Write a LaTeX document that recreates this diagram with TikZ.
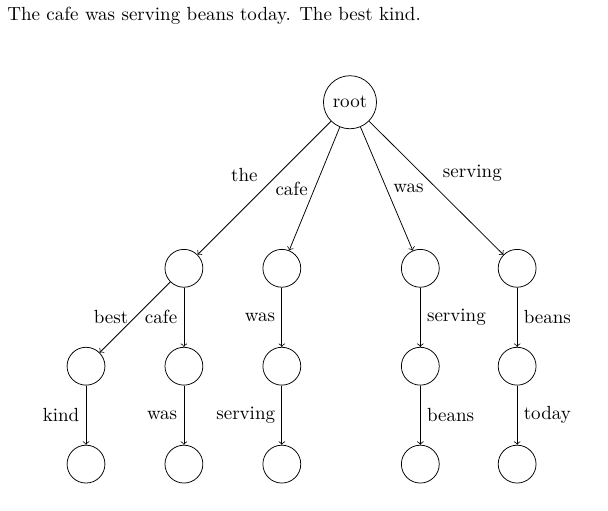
\documentclass[tikz,border=0pt]{standalone}
\usetikzlibrary{arrows}
\tikzset{vertex/.style={circle, draw, minimum size=0.7cm, inner sep=3.33pt}}

\begin{document}
\begin{tikzpicture}
              \useasboundingbox (0,0) rectangle (11.24,9.43);

              % Sentence on top
              \node[anchor=base west, inner sep=0pt] (sentence) at (0.13,9.06) {The cafe was serving beans today. The best kind.};

              % Root
              \node[vertex] (r) at (6.47,7.54) {root};

              % First level
              \node[vertex] (t1) at (3.40,4.47) {};
              \node[vertex] (c1) at (5.21,4.47) {};
              \node[vertex] (w1) at (7.77,4.47) {};
              \node[vertex] (s1) at (9.56,4.47) {};

              % Second level
              \node[vertex] (b2) at (1.59,2.66) {};
              \node[vertex] (c2) at (3.40,2.66) {};
              \node[vertex] (w2) at (5.21,2.66) {};
              \node[vertex] (s2) at (7.77,2.66) {};
              \node[vertex] (be2) at (9.56,2.66) {};

              % Third level
              \node[vertex] (k3) at (1.59,0.85) {};
              \node[vertex] (w3) at (3.40,0.85) {};
              \node[vertex] (s3) at (5.21,0.85) {};
              \node[vertex] (be3) at (7.77,0.85) {};
              \node[vertex] (to3) at (9.56,0.85) {};

              % Edges from the root
              \draw[->] (r) -- node[above left] {the} (t1);
              \draw[->] (r) -- node[left] {cafe} (c1);
              \draw[->] (r) -- node[right] {was} (w1);
              \draw[->] (r) -- node[above right] {serving} (s1);

              % Edges to the second level
              \draw[->] (t1) -- node[left] {best} (b2);
              \draw[->] (t1) -- node[left] {cafe} (c2);
              \draw[->] (c1) -- node[left] {was} (w2);
              \draw[->] (w1) -- node[right] {serving} (s2);
              \draw[->] (s1) -- node[right] {beans} (be2);

              % Edges to the third level
              \draw[->] (b2) -- node[left] {kind} (k3);
              \draw[->] (c2) -- node[left] {was} (w3);
              \draw[->] (w2) -- node[left] {serving} (s3);
              \draw[->] (s2) -- node[right] {beans} (be3);
              \draw[->] (be2) -- node[right] {today} (to3);
            \end{tikzpicture}
\end{document}
